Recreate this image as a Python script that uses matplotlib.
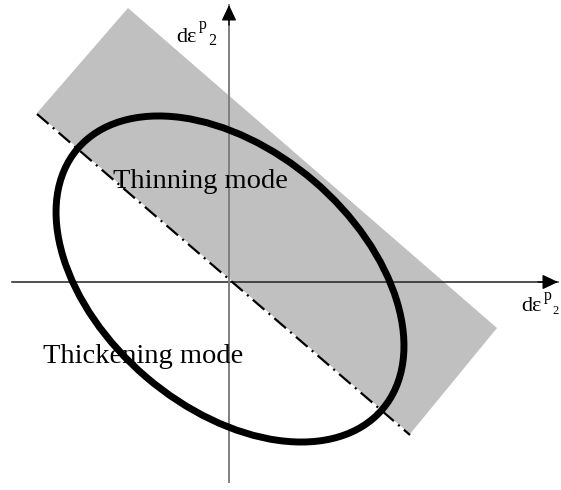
import matplotlib
matplotlib.use("Agg")
import matplotlib.pyplot as plt
from matplotlib.patches import Ellipse, Polygon

# everything below is in picture pixel units (x right, y down)
band_x = [37, 128, 497, 410]
band_y = [113, 8, 328, 434]

divider_x = [37, 410]
divider_y = [114, 435]

ell_center = (230, 279)
ell_width = 401
ell_height = 258
ell_angle = 40.5

axis_origin = (229, 282)
xaxis_span = [12, 558]
yaxis_span = [482, 5]

labels = ["Thinning mode", "Thickening mode"]
label_pos = [(113, 188), (43, 363)]

plt.rcParams['lines.scale_dashes'] = False
fig = plt.figure(figsize=(5.61, 4.90), dpi=100)
ax = fig.add_axes([0, 0, 1, 1])
ax.set_xlim(0, 561)
ax.set_ylim(490, 0)
ax.axis('off')

# shaded band
ax.add_patch(Polygon(list(zip(band_x, band_y)), closed=True,
                     facecolor='#c0c0c0', edgecolor='none', zorder=1))

# dash-dot boundary
ax.plot(divider_x, divider_y, color='black', lw=1.6,
        linestyle=(0, (11, 4, 1.5, 4)), zorder=3)

# axes lines
ax.plot(xaxis_span, [axis_origin[1]] * 2, color='#202020', lw=1.1, zorder=2)
ax.plot([axis_origin[0]] * 2, yaxis_span, color='#808080', lw=1.4, zorder=2)

arrow = dict(arrowstyle='-|>,head_length=0.95,head_width=0.45', color='black',
             lw=1.0, shrinkA=0, shrinkB=0)
ax.annotate('', xy=(axis_origin[0], yaxis_span[1]),
            xytext=(axis_origin[0], yaxis_span[1] + 20), arrowprops=arrow, zorder=5)
ax.annotate('', xy=(xaxis_span[1], axis_origin[1]),
            xytext=(xaxis_span[1] - 20, axis_origin[1]), arrowprops=arrow, zorder=5)

# yield ellipse
ax.add_patch(Ellipse(ell_center, ell_width, ell_height, angle=ell_angle,
                     fill=False, edgecolor='black', lw=5, zorder=4))

serif = 'Liberation Serif'
for s, (x, y) in zip(labels, label_pos):
    ax.text(x, y, s, fontsize=20.5, family=serif, va='baseline', ha='left', zorder=6)

# axis labels: d eps ^p _2
ax.text(176, 42, 'd\u03b5', fontsize=16, family=serif, va='baseline', zorder=6)
ax.text(199, 29, 'p', fontsize=11.5, family=serif, va='baseline', zorder=6)
ax.text(208, 45, '2', fontsize=11.5, family=serif, va='baseline', zorder=6)

ax.text(521, 311, 'd\u03b5', fontsize=16, family=serif, va='baseline', zorder=6)
ax.text(544, 300, 'p', fontsize=11.5, family=serif, va='baseline', zorder=6)
ax.text(552, 314, '2', fontsize=9, family=serif, va='baseline', zorder=6)

fig.savefig('out.png', dpi=100)
